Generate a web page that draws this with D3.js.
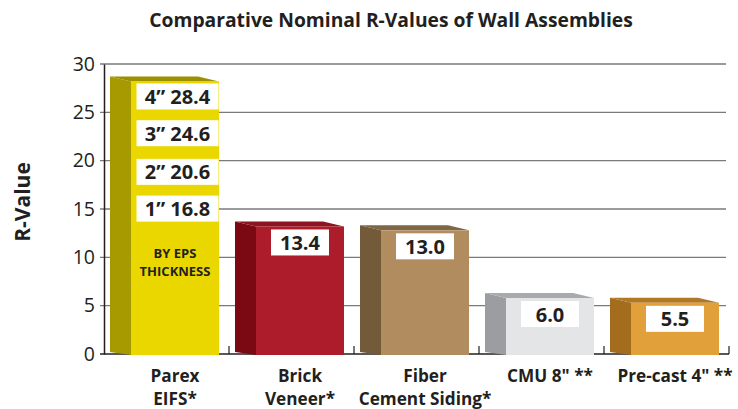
<!DOCTYPE html>
<html>
<head>
<meta charset="utf-8">
<script src="https://cdn.jsdelivr.net/npm/d3@7"></script>
<style>
  body { margin: 0; background: #fff; }
  svg text { font-family: "Open Sans", sans-serif; fill: #231f20; }
</style>
</head>
<body>
<script>
// chart values
var categories = [['Parex', 'EIFS*'], ['Brick', 'Veneer*'], ['Fiber', 'Cement Siding*'], ['CMU 8" **'], ['Pre-cast 4" **']];
var rValues = [28.4, 13.4, 13.0, 6.0, 5.5];
var valueLabels = ['', '13.4', '13.0', '6.0', '5.5'];
var frontColors = ['#ebd700', '#ad1c2a', '#b08c5f', '#e4e5e7', '#e2a03a'];
var sideColors = ['#a69a00', '#7a0913', '#735b3a', '#9c9da1', '#a36d1d'];
var topColors = ['#9c9000', '#8c1420', '#7f6644', '#a9aaae', '#b07822'];
var eifsThickness = ['1\u201d', '2\u201d', '3\u201d', '4\u201d'];
var eifsValues = [16.8, 20.6, 24.6, 28.4];
var yTicks = [0, 5, 10, 15, 20, 25, 30];

var width = 738, height = 409;
var margin = { top: 64, left: 104, right: 9, bottom: 55 };
var chartW = width - margin.left - margin.right;
var chartH = height - margin.top - margin.bottom;

var svg = d3.select('body').append('svg')
  .attr('width', width)
  .attr('height', height);

svg.append('text')
  .attr('x', 391)
  .attr('y', 27)
  .attr('text-anchor', 'middle')
  .style('font-size', '19.3px')
  .style('font-weight', 'bold')
  .text('Comparative Nominal R-Values of Wall Assemblies');

var chart = svg.append('g')
  .attr('transform', 'translate(' + margin.left + ',' + margin.top + ')');

var x = d3.scaleBand()
  .domain(d3.range(categories.length))
  .range([0, chartW]);

var y = d3.scaleLinear().domain([0, 30]).range([chartH, 0]);

// gridlines
chart.append('g')
  .selectAll('line')
  .data(yTicks.slice(1))
  .enter()
  .append('line')
  .attr('x1', -4)
  .attr('x2', chartW - 3)
  .attr('y1', function(d) { return y(d); })
  .attr('y2', function(d) { return y(d); })
  .attr('stroke', '#7a7a7a')
  .attr('stroke-width', 1.3);

// y axis
var leftAxis = d3.axisLeft(y).tickValues(yTicks).tickSize(0).tickPadding(9);
var gy = chart.append('g').call(leftAxis);
gy.select('.domain').attr('stroke', '#231f20').attr('stroke-width', 1.5);
gy.selectAll('text').style('font-size', '19.5px').style('font-family', '"Open Sans", sans-serif').attr('fill', '#231f20');

// baseline and ticks between categories
chart.append('line')
  .attr('x1', -4).attr('x2', chartW)
  .attr('y1', chartH).attr('y2', chartH)
  .attr('stroke', '#231f20').attr('stroke-width', 1.5);

chart.append('g')
  .selectAll('line')
  .data(d3.range(1, categories.length + 1))
  .enter()
  .append('line')
  .attr('x1', function(d) { return d === categories.length ? chartW : x(d); })
  .attr('x2', function(d) { return d === categories.length ? chartW : x(d); })
  .attr('y1', chartH)
  .attr('y2', chartH - 8)
  .attr('stroke', '#231f20').attr('stroke-width', 1.2);

// 3d bars
var depthX = 21, depthY = 5;
var frontL = 27, frontR = 115;

var bars = chart.selectAll('.bar')
  .data(rValues)
  .enter()
  .append('g')
  .attr('class', 'bar');

bars.append('polygon')
  .attr('fill', function(d, i) { return sideColors[i]; })
  .attr('points', function(d, i) {
    var fx = x(i) + frontL, t = y(d) + 2;
    return [[fx, t], [fx - depthX, t - depthY], [fx - depthX, chartH - 2], [fx, chartH + 1]].join(' ');
  });

bars.append('polygon')
  .attr('fill', function(d, i) { return topColors[i]; })
  .attr('points', function(d, i) {
    var fx = x(i) + frontL, fr = x(i) + frontR, t = y(d) + 2;
    return [[fx, t], [fx - depthX, t - depthY], [fr - depthX, t - depthY], [fr, t]].join(' ');
  });

bars.append('rect')
  .attr('x', function(d, i) { return x(i) + frontL; })
  .attr('y', function(d) { return y(d) + 2; })
  .attr('width', frontR - frontL)
  .attr('height', function(d) { return chartH + 1 - y(d) - 2; })
  .attr('fill', function(d, i) { return frontColors[i]; });

// value boxes for single-value bars
var labelled = d3.range(1, rValues.length);
chart.selectAll('.vbox')
  .data(labelled)
  .enter()
  .append('rect')
  .attr('class', 'vbox')
  .attr('x', function(i) { return x(i) + (frontL + frontR) / 2 - 29; })
  .attr('y', function(i) { return y(rValues[i]) + 5; })
  .attr('width', 58)
  .attr('height', 26)
  .attr('fill', '#fff');

chart.selectAll('.vlabel')
  .data(labelled)
  .enter()
  .append('text')
  .attr('class', 'vlabel')
  .attr('x', function(i) { return x(i) + (frontL + frontR) / 2; })
  .attr('y', function(i) { return y(rValues[i]) + 25.5; })
  .attr('text-anchor', 'middle')
  .style('font-size', '20px')
  .style('font-weight', 'bold')
  .text(function(i) { return valueLabels[i]; });

// EIFS thickness boxes
var eifs = chart.selectAll('.ebox')
  .data(eifsValues)
  .enter()
  .append('g');

eifs.append('rect')
  .attr('x', x(0) + frontL + 5.5)
  .attr('y', function(d) { return y(d) + 4; })
  .attr('width', 82)
  .attr('height', 26)
  .attr('fill', '#fff');

eifs.append('text')
  .attr('x', x(0) + frontL + 46.5)
  .attr('y', function(d) { return y(d) + 24.5; })
  .attr('text-anchor', 'middle')
  .style('font-size', '20px')
  .style('font-weight', 'bold')
  .text(function(d, i) { return eifsThickness[i] + ' ' + d3.format('.1f')(d); });

chart.append('text')
  .attr('x', x(0) + frontL + 44)
  .attr('y', y(10) + 1)
  .attr('text-anchor', 'middle')
  .style('font-size', '13px')
  .style('font-weight', 'bold')
  .selectAll('tspan')
  .data(['BY EPS', 'THICKNESS'])
  .enter()
  .append('tspan')
  .attr('x', x(0) + frontL + 44)
  .attr('dy', function(d, i) { return i === 0 ? 0 : 17.5; })
  .text(function(d) { return d; });

// category labels
chart.selectAll('.cat')
  .data(categories)
  .enter()
  .append('text')
  .attr('class', 'cat')
  .attr('text-anchor', 'middle')
  .attr('y', chartH + 28)
  .style('font-size', '17.2px')
  .style('font-weight', 'bold')
  .each(function(lines, i) {
    d3.select(this).selectAll('tspan')
      .data(lines)
      .enter()
      .append('tspan')
      .attr('x', x(i) + (frontL + frontR) / 2)
      .attr('dy', function(d, j) { return j === 0 ? 0 : 22.5; })
      .text(function(d) { return d; });
  });

// y axis title
svg.append('text')
  .attr('transform', 'translate(30,' + 202 + ') rotate(-90)')
  .attr('text-anchor', 'middle')
  .style('font-size', '21px')
  .style('font-weight', 'bold')
  .text('R-Value');
</script>
</body>
</html>
